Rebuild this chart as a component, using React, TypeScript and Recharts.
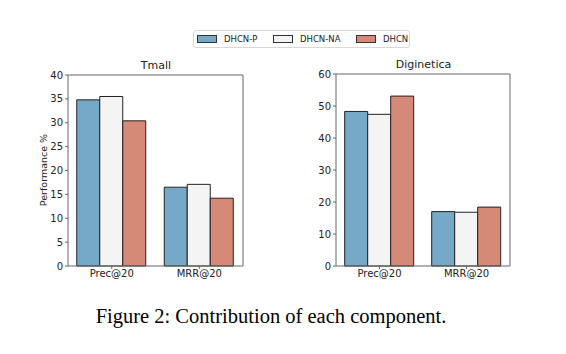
import React from "react";
import { BarChart, Bar, XAxis, YAxis } from "recharts";

const metrics = ["Prec@20", "MRR@20"];
const seriesNames = ["DHCN-P", "DHCN-NA", "DHCN"];
const seriesColors = ["#76a8c7", "#f4f4f4", "#d48a76"];

const tmallP = [34.8, 16.5];
const tmallNA = [35.5, 17.1];
const tmallFull = [30.4, 14.2];
const tmallTicks = [0, 5, 10, 15, 20, 25, 30, 35, 40];

const digiP = [48.3, 17.0];
const digiNA = [47.4, 16.8];
const digiFull = [53.1, 18.4];
const digiTicks = [0, 10, 20, 30, 40, 50, 60];

const FONT = "'DejaVu Sans', sans-serif";

function toRows(p: number[], na: number[], full: number[]) {
  return metrics.map((m, i) => ({
    name: m,
    [seriesNames[0]]: p[i],
    [seriesNames[1]]: na[i],
    [seriesNames[2]]: full[i],
  }));
}

const tick = { fontSize: 10, fill: "#222", fontFamily: FONT };

function Panel({
  data,
  ticks,
  width,
  height,
  left,
}: {
  data: any[];
  ticks: number[];
  width: number;
  height: number;
  left: number;
}) {
  const max = ticks[ticks.length - 1];
  return (
    <BarChart
      width={width}
      height={height}
      data={data}
      margin={{ top: 8, right: 16, bottom: 0, left }}
      barCategoryGap="10%"
      barGap={0}
    >
      <XAxis
        dataKey="name"
        tick={tick}
        stroke="#666"
        tickSize={3}
        tickMargin={1}
        height={20}
        interval={0}
      />
      <XAxis
        xAxisId="top"
        dataKey="name"
        orientation="top"
        tick={false}
        tickLine={false}
        stroke="#666"
        height={1}
      />
      <YAxis
        domain={[0, max]}
        ticks={ticks}
        tick={tick}
        stroke="#666"
        tickSize={3}
        tickMargin={2}
        width={30}
        interval={0}
      />
      <YAxis
        yAxisId="right"
        orientation="right"
        domain={[0, max]}
        tick={false}
        tickLine={false}
        stroke="#666"
        width={1}
      />
      {seriesNames.map((s, i) => (
        <Bar
          key={s}
          dataKey={s}
          fill={seriesColors[i]}
          stroke="#222"
          strokeWidth={1}
          isAnimationActive={false}
        />
      ))}
    </BarChart>
  );
}

export default function App() {
  const tmall = toRows(tmallP, tmallNA, tmallFull);
  const digi = toRows(digiP, digiNA, digiFull);
  return (
    <div
      style={{
        position: "relative",
        width: 566,
        height: 354,
        margin: -8,
        background: "#fff",
        fontFamily: FONT,
        color: "#222",
      }}
    >
      {/* legend */}
      <div
        style={{
          position: "absolute",
          left: 193,
          top: 30,
          width: 217,
          height: 18,
          border: "1px solid #d8d8d8",
          borderRadius: 3,
          boxSizing: "border-box",
          fontSize: 8.5,
        }}
      >
        {seriesNames.map((s, i) => (
          <div
            key={s}
            style={{
              position: "absolute",
              left: [3, 79, 162][i],
              top: 2,
              display: "flex",
              alignItems: "center",
              height: 12,
            }}
          >
            <span
              style={{
                display: "inline-block",
                width: 18,
                height: 6,
                background: seriesColors[i],
                border: "1px solid #333",
                marginRight: 7,
              }}
            />
            <span>{s}</span>
          </div>
        ))}
      </div>

      <div style={{ position: "absolute", left: 68, width: 176, top: 59, textAlign: "center", fontSize: 11 }}>
        Tmall
      </div>
      <div style={{ position: "absolute", left: 336, width: 175, top: 58, textAlign: "center", fontSize: 11 }}>
        Diginetica
      </div>
      <div
        style={{
          position: "absolute",
          left: 43,
          top: 170,
          fontSize: 9.5,
          whiteSpace: "nowrap",
          transform: "translate(-50%, -50%) rotate(-90deg)",
        }}
      >
        Performance %
      </div>

      <div style={{ position: "absolute", left: 0, top: 66 }}>
        <Panel data={tmall} ticks={tmallTicks} width={260} height={220} left={38} />
      </div>
      <div style={{ position: "absolute", left: 280, top: 65 }}>
        <Panel data={digi} ticks={digiTicks} width={247} height={221} left={26} />
      </div>

      <div
        style={{
          position: "absolute",
          left: -12,
          width: 566,
          top: 305,
          textAlign: "center",
          fontFamily: "'Liberation Serif', serif",
          fontSize: 20.5,
          color: "#000",
        }}
      >
        Figure 2: Contribution of each component.
      </div>
    </div>
  );
}
